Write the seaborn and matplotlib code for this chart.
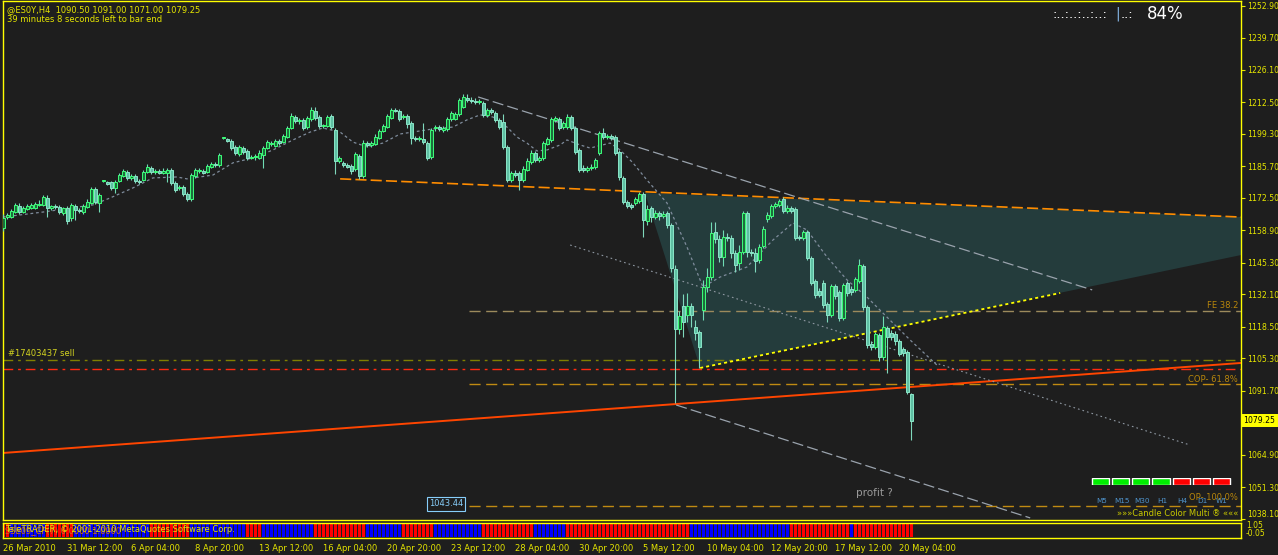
import numpy as np
import pandas as pd
import seaborn as sns
import matplotlib.pyplot as plt

W, H = 1278, 555
BG = "#1e1e1e"
FG = "#e6e600"

# BOUGIES H4 @ES0Y
opens = [
    1159.9, 1164.5, 1164.5, 1166.6, 1169.1, 1166.6, 1167.9, 1168.3, 1168.3, 1169.6,
    1169.6, 1172.5, 1168.3, 1169.1, 1168.7, 1166.2, 1168.3, 1164.1, 1169.1, 1167.5,
    1166.6, 1168.7, 1170.4, 1176.3, 1170.4, 1179.6, 1179.2, 1179.2, 1176.7, 1179.6,
    1181.7, 1183.4, 1180.9, 1181.7, 1179.6, 1180.0, 1183.4, 1185.1, 1183.4, 1183.8,
    1183.0, 1183.0, 1184.2, 1178.8, 1176.7, 1177.1, 1174.2, 1172.1, 1181.7, 1183.8,
    1183.8, 1183.4, 1185.5, 1186.7, 1186.3, 1197.6, 1197.2, 1196.4, 1193.9, 1190.9,
    1193.4, 1192.2, 1189.3, 1189.7, 1189.3, 1190.5, 1193.4, 1195.1, 1194.3, 1196.4,
    1196.0, 1198.0, 1201.8, 1206.4, 1204.7, 1205.2, 1202.2, 1205.6, 1208.9, 1206.4,
    1202.6, 1202.6, 1206.8, 1201.0, 1188.0, 1187.2, 1186.3, 1185.9, 1184.6, 1190.1,
    1181.7, 1195.5, 1194.7, 1195.1, 1197.6, 1200.6, 1202.2, 1206.0, 1209.3, 1208.9,
    1206.4, 1206.8, 1203.9, 1197.6, 1197.2, 1197.2, 1195.5, 1189.7, 1201.8, 1202.2,
    1201.0, 1201.4, 1205.6, 1205.6, 1207.7, 1210.6, 1214.4, 1213.5, 1213.1, 1212.7,
    1212.3, 1207.3, 1209.3, 1208.1, 1205.2, 1204.3, 1193.9, 1180.0, 1183.0, 1183.0,
    1180.0, 1184.2, 1187.6, 1191.3, 1188.4, 1189.3, 1195.1, 1196.8, 1205.2, 1205.6,
    1202.2, 1202.2, 1206.4, 1201.8, 1192.6, 1185.1, 1184.2, 1185.1, 1185.5, 1191.3,
    1199.7, 1198.0, 1198.5, 1198.0, 1191.8, 1180.9, 1170.8, 1169.6, 1170.4, 1171.2,
    1174.2, 1162.9, 1168.3, 1164.5, 1166.2, 1165.0, 1166.2, 1161.2, 1142.8, 1117.6,
    1127.3, 1123.5, 1127.3, 1118.5, 1116.4, 1125.6, 1135.2, 1139.4, 1158.3, 1155.3,
    1147.8, 1156.2, 1155.7, 1149.5, 1145.3, 1149.9, 1166.2, 1149.9, 1149.5, 1146.5,
    1152.4, 1163.7, 1165.0, 1169.1, 1169.6, 1172.1, 1167.0, 1168.3, 1167.9, 1156.2,
    1155.7, 1158.3, 1147.4, 1137.7, 1133.5, 1136.9, 1128.1, 1123.5, 1135.6, 1133.1,
    1122.2, 1136.9, 1134.4, 1134.0, 1137.7, 1144.0, 1126.8, 1111.3, 1110.1, 1115.1,
    1105.9, 1118.0, 1116.0, 1115.5, 1112.6, 1109.3, 1108.0, 1090.5]
highs = [
    1165.8, 1166.2, 1167.9, 1170.4, 1170.4, 1169.1, 1170.0, 1170.4, 1170.8, 1171.7,
    1173.8, 1173.8, 1169.6, 1170.0, 1169.6, 1168.7, 1169.1, 1170.4, 1170.0, 1168.3,
    1170.0, 1172.1, 1177.1, 1177.1, 1174.6, 1180.0, 1179.6, 1179.6, 1180.0, 1183.0,
    1184.6, 1184.2, 1182.6, 1182.6, 1180.5, 1184.2, 1186.7, 1185.9, 1184.6, 1184.6,
    1185.1, 1185.1, 1185.1, 1179.6, 1177.9, 1177.9, 1175.0, 1183.0, 1185.1, 1185.1,
    1184.6, 1186.7, 1187.6, 1187.6, 1191.3, 1198.0, 1197.6, 1197.2, 1194.7, 1194.7,
    1194.3, 1193.0, 1190.5, 1190.9, 1192.6, 1194.3, 1196.8, 1196.4, 1197.2, 1197.2,
    1199.3, 1202.6, 1208.1, 1207.3, 1206.0, 1206.0, 1206.8, 1210.6, 1210.6, 1207.3,
    1203.5, 1207.3, 1207.7, 1201.8, 1190.1, 1188.0, 1187.2, 1186.7, 1191.8, 1190.9,
    1196.8, 1196.4, 1196.4, 1199.3, 1201.4, 1203.5, 1207.7, 1210.2, 1210.2, 1209.8,
    1207.7, 1207.7, 1204.7, 1198.5, 1198.5, 1203.9, 1196.4, 1201.8, 1203.1, 1203.1,
    1202.6, 1206.4, 1208.9, 1208.5, 1214.4, 1216.0, 1216.0, 1214.8, 1214.4, 1214.0,
    1213.1, 1210.2, 1210.2, 1208.9, 1206.0, 1207.7, 1194.7, 1183.8, 1184.2, 1183.8,
    1185.9, 1189.3, 1192.6, 1192.2, 1190.1, 1196.4, 1198.0, 1206.4, 1206.8, 1206.4,
    1204.7, 1207.7, 1207.3, 1202.6, 1193.4, 1186.3, 1185.9, 1186.7, 1189.3, 1200.6,
    1201.8, 1199.3, 1199.3, 1198.9, 1192.6, 1181.7, 1171.7, 1170.4, 1172.9, 1175.0,
    1175.0, 1169.6, 1169.1, 1167.5, 1167.0, 1167.0, 1167.0, 1162.0, 1144.4, 1125.2,
    1132.3, 1132.7, 1128.5, 1121.4, 1117.2, 1138.2, 1143.2, 1162.4, 1162.4, 1157.0,
    1159.1, 1157.8, 1157.0, 1150.7, 1152.8, 1167.0, 1167.0, 1151.1, 1151.5, 1153.2,
    1160.8, 1166.6, 1170.0, 1170.8, 1172.1, 1172.9, 1169.6, 1169.1, 1168.7, 1157.0,
    1159.1, 1159.1, 1148.2, 1138.6, 1134.8, 1138.2, 1128.9, 1136.4, 1136.4, 1134.0,
    1136.9, 1137.7, 1135.6, 1139.4, 1146.9, 1144.8, 1127.7, 1112.6, 1116.4, 1115.9,
    1123.1, 1118.9, 1117.2, 1116.8, 1113.4, 1110.1, 1108.8, 1091.0]
lows = [
    1158.7, 1163.7, 1164.1, 1166.2, 1165.8, 1166.2, 1167.5, 1167.9, 1167.9, 1169.1,
    1169.1, 1164.5, 1167.5, 1167.9, 1165.8, 1165.4, 1161.6, 1162.9, 1163.3, 1166.2,
    1165.8, 1168.3, 1170.0, 1170.0, 1166.6, 1179.2, 1177.9, 1175.8, 1174.6, 1179.2,
    1181.3, 1180.0, 1180.0, 1178.8, 1178.4, 1179.6, 1183.0, 1182.6, 1182.6, 1182.6,
    1182.6, 1179.2, 1177.9, 1175.0, 1175.8, 1173.3, 1171.2, 1171.2, 1180.9, 1183.0,
    1182.6, 1183.0, 1185.1, 1185.5, 1185.5, 1197.2, 1196.0, 1192.6, 1190.5, 1190.1,
    1190.9, 1188.4, 1188.8, 1188.4, 1188.8, 1185.1, 1193.0, 1194.3, 1193.9, 1194.7,
    1195.5, 1197.6, 1201.4, 1203.9, 1203.5, 1201.0, 1201.4, 1204.7, 1205.2, 1201.8,
    1201.8, 1202.2, 1201.4, 1182.6, 1187.2, 1185.5, 1185.1, 1182.6, 1183.8, 1180.5,
    1180.9, 1193.9, 1193.9, 1194.7, 1197.2, 1200.1, 1201.8, 1205.6, 1208.5, 1204.7,
    1205.6, 1201.8, 1195.1, 1196.4, 1196.4, 1195.1, 1188.4, 1188.8, 1200.6, 1200.6,
    1200.1, 1200.6, 1204.7, 1205.2, 1206.8, 1210.2, 1212.7, 1212.3, 1211.9, 1211.9,
    1206.4, 1206.4, 1207.7, 1204.3, 1201.4, 1193.0, 1179.2, 1179.2, 1181.3, 1175.8,
    1179.2, 1183.8, 1186.7, 1187.6, 1187.6, 1188.4, 1194.7, 1196.0, 1204.3, 1201.0,
    1201.4, 1201.4, 1201.0, 1190.9, 1183.4, 1183.4, 1183.4, 1184.2, 1184.6, 1190.5,
    1197.2, 1197.2, 1196.8, 1190.5, 1180.0, 1170.0, 1168.3, 1167.9, 1169.6, 1170.4,
    1156.2, 1161.2, 1162.4, 1163.7, 1163.3, 1164.1, 1159.9, 1141.5, 1086.6, 1115.5,
    1114.3, 1120.6, 1118.5, 1113.0, 1101.3, 1121.4, 1133.1, 1138.2, 1153.6, 1145.7,
    1144.0, 1154.5, 1147.4, 1141.5, 1142.3, 1149.0, 1147.8, 1148.2, 1141.5, 1145.3,
    1151.5, 1162.4, 1164.1, 1168.3, 1168.7, 1166.2, 1166.2, 1166.2, 1154.9, 1154.9,
    1154.9, 1146.5, 1136.1, 1130.6, 1131.0, 1126.4, 1120.6, 1122.6, 1130.2, 1121.0,
    1121.4, 1131.4, 1131.9, 1133.1, 1136.9, 1125.6, 1109.7, 1108.8, 1109.3, 1104.2,
    1104.6, 1099.2, 1113.0, 1110.9, 1106.3, 1106.3, 1090.4, 1071.0]
closes = [
    1164.1, 1165.4, 1167.0, 1169.6, 1166.6, 1168.3, 1169.1, 1169.6, 1170.0, 1170.0,
    1172.9, 1168.3, 1169.1, 1168.7, 1166.6, 1168.3, 1162.9, 1169.6, 1167.5, 1167.0,
    1169.1, 1170.8, 1176.3, 1170.8, 1173.8, 1179.6, 1178.4, 1176.7, 1179.2, 1182.1,
    1183.8, 1180.9, 1181.7, 1179.6, 1179.2, 1183.4, 1185.5, 1183.4, 1183.8, 1183.0,
    1183.8, 1184.2, 1178.8, 1175.8, 1177.1, 1174.2, 1172.1, 1182.1, 1184.2, 1184.2,
    1183.0, 1185.9, 1186.7, 1186.3, 1190.5, 1197.6, 1196.4, 1193.4, 1191.3, 1193.9,
    1191.8, 1189.3, 1189.7, 1190.1, 1191.3, 1193.4, 1196.0, 1195.5, 1196.4, 1195.5,
    1198.5, 1201.8, 1206.8, 1204.7, 1205.2, 1201.8, 1206.0, 1209.3, 1206.0, 1202.6,
    1203.1, 1206.4, 1202.2, 1188.0, 1189.3, 1186.3, 1185.5, 1183.8, 1190.9, 1181.7,
    1195.5, 1194.7, 1195.5, 1198.0, 1200.6, 1202.6, 1206.8, 1209.3, 1208.9, 1205.6,
    1206.8, 1203.5, 1197.6, 1197.2, 1197.6, 1196.0, 1189.3, 1201.0, 1202.2, 1201.4,
    1201.8, 1205.6, 1208.1, 1207.7, 1213.5, 1214.8, 1213.5, 1213.1, 1212.7, 1213.1,
    1207.3, 1209.3, 1208.5, 1205.2, 1202.2, 1193.9, 1180.0, 1183.0, 1182.1, 1180.0,
    1184.6, 1188.0, 1191.3, 1188.4, 1189.3, 1195.5, 1197.2, 1205.6, 1206.0, 1201.8,
    1203.9, 1206.4, 1201.8, 1191.8, 1184.2, 1184.2, 1185.1, 1185.5, 1188.4, 1199.7,
    1198.0, 1198.5, 1197.6, 1191.3, 1181.3, 1170.8, 1169.1, 1168.7, 1172.1, 1174.2,
    1163.3, 1167.9, 1164.5, 1166.2, 1165.0, 1165.8, 1161.2, 1143.2, 1117.6, 1123.1,
    1120.6, 1127.3, 1123.5, 1116.0, 1110.1, 1135.2, 1139.4, 1157.8, 1155.3, 1147.8,
    1156.2, 1155.7, 1149.5, 1144.4, 1149.9, 1166.2, 1149.9, 1149.5, 1146.1, 1152.0,
    1159.5, 1165.4, 1169.1, 1170.0, 1171.2, 1167.0, 1168.3, 1167.0, 1155.7, 1155.7,
    1158.3, 1147.4, 1136.9, 1131.9, 1131.9, 1127.7, 1123.5, 1135.6, 1131.4, 1122.2,
    1136.0, 1132.7, 1133.1, 1138.6, 1144.4, 1126.8, 1110.9, 1110.1, 1115.5, 1105.9,
    1118.5, 1114.3, 1114.3, 1112.6, 1107.1, 1107.6, 1091.2, 1079.25]

ma_bar = [-0.1, 9.9, 22.4, 26.7, 32.4, 37.4, 43.4, 45.9, 52.4, 57.4, 62.4, 67.4, 72.4,
          76.7, 79.9, 84.2, 87.4, 90.9, 94.9, 99.2, 107.4, 112.4, 115.9, 119.2, 122.4,
          125.9, 128.4, 130.9, 133.4, 135.9, 139.2, 140.9, 144.2, 146.7, 151.7, 154.2,
          157.4, 160.9, 165.9, 170.9, 174.9, 179.2, 185.9, 192.4, 197.4, 200.9, 205.9,
          210.9, 215.9, 220.9, 226.7, 233.4]
ma_price = [1164.5, 1166.6, 1169.6, 1172.5, 1176.7, 1180.9, 1181.3, 1180.5, 1182.1, 1187.2,
            1189.3, 1192.6, 1196.8, 1200.1, 1201.8, 1200.1, 1195.9, 1193.9, 1195.5, 1199.3,
            1201.4, 1202.2, 1205.2, 1207.3, 1206.4, 1202.2, 1198.0, 1195.5, 1192.2, 1192.6,
            1194.7, 1196.8, 1194.7, 1193.4, 1195.5, 1192.6, 1187.2, 1180.0, 1170.4, 1152.0,
            1135.2, 1139.4, 1143.6, 1154.9, 1162.0, 1159.1, 1147.8, 1138.2, 1131.0, 1122.6,
            1113.0, 1102.5]

# lignes de tendance (ancrages barre / prix)
trend_orange_bar = [84.2, 309.4]
trend_orange_price = [1180.5, 1164.5]
trend_red_bar = [-0.1, 309.4]
trend_red_price = [1065.7, 1103.4]
channel_up_bar = [118.7, 272.2]
channel_up_price = [1214.8, 1134.0]
channel_low_bar = [168.2, 256.7]
channel_low_price = [1085.8, 1038.5]
channel_mid_bar = [141.7, 296.7]
channel_mid_price = [1152.8, 1069.0]
yellow_bar = [174.2, 264.2]
yellow_price = [1101.3, 1132.7]
triangle_bar = [160.4, 309.4, 309.4, 174.2]
triangle_price = [1174.6, 1164.5, 1148.6, 1101.3]

# niveaux horizontaux
level_olive = 1104.65
level_red = 1100.9
level_fe = 1125.2
level_cop = 1094.6
level_op = 1043.44
levels_start = 116.5

# axe des prix / axe des temps
price_ticks = [1252.90, 1239.70, 1226.10, 1212.50, 1199.30, 1185.70, 1172.50, 1158.90,
               1145.30, 1132.10, 1118.50, 1105.30, 1091.70, 1064.90, 1051.30, 1038.10]
last_price = 1079.25
date_ticks = [0, 16, 32, 48, 64, 80, 96, 112, 128, 144, 160, 176, 192, 208, 224]
date_labels = ["26 Mar 2010", "31 Mar 12:00", "6 Apr 04:00", "8 Apr 20:00", "13 Apr 12:00",
               "16 Apr 04:00", "20 Apr 20:00", "23 Apr 12:00", "28 Apr 04:00", "30 Apr 20:00",
               "5 May 12:00", "10 May 04:00", "12 May 20:00", "17 May 12:00", "20 May 04:00"]

# sous-fenetre : tendance rouge / bleue (longueurs des series)
trend_runs = [("r", 2), ("b", 9), ("r", 7), ("b", 19), ("r", 10), ("b", 14), ("r", 4),
              ("b", 13), ("r", 13), ("b", 9), ("r", 8), ("b", 12), ("r", 13), ("b", 8),
              ("r", 31), ("b", 25), ("r", 15), ("b", 1), ("r", 15)]

# Candle Color Multi
tf_labels = ["M5", "M15", "M30", "H1", "H4", "D1", "W1"]
tf_up = [1, 1, 1, 1, 0, 0, 0]

sns.set_theme(style="dark", rc={
    "axes.facecolor": BG, "figure.facecolor": BG, "axes.edgecolor": "#ffff00",
    "axes.linewidth": 1.0, "lines.scale_dashes": False})
plt.rcParams["font.family"] = ["DejaVu Sans"]

df = pd.DataFrame({"o": opens, "h": highs, "l": lows, "c": closes})
df["i"] = np.arange(len(df))
up = df["c"] >= df["o"]

fig = plt.figure(figsize=(W / 100, H / 100), dpi=100)
ax = fig.add_axes([3 / W, 1 - 520 / H, 1238 / W, 519 / H])
ax2 = fig.add_axes([3 / W, 1 - 538 / H, 1238 / W, 15 / H], sharex=ax)
ax.set_xlim(-0.075, 309.4)
ax.set_ylim(1037.63, 1254.99)

# zone triangle
ax.fill(triangle_bar, triangle_price, color="#243c3c", lw=0, zorder=0.5)

# lignes horizontales
ax.axhline(level_olive, color="#808000", lw=1, dashes=(7, 3.5, 2, 3.5), zorder=1)
ax.axhline(level_red, color="#ff2a10", lw=1, dashes=(7, 3.5, 2, 3.5), zorder=1)
ax.hlines([level_fe], levels_start, 309.4, color="#9c8a5c", lw=1, linestyles=[(0, (8, 4))], zorder=1)
ax.hlines([level_cop, level_op], levels_start, 309.4, color="#c08a12", lw=1,
          linestyles=[(0, (8, 4))], zorder=1)

# tendances
ax.plot(trend_red_bar, trend_red_price, color="#ff4500", lw=1.4, zorder=2)
ax.plot(trend_orange_bar, trend_orange_price, color="#ff8c00", lw=1.2, dashes=(8, 3), zorder=2)
ax.plot(channel_up_bar, channel_up_price, color="#9aa3ad", lw=0.9, dashes=(8, 3), zorder=2)
ax.plot(channel_low_bar, channel_low_price, color="#9aa3ad", lw=0.9, dashes=(8, 3), zorder=2)
ax.plot(channel_mid_bar, channel_mid_price, color="#8f98a2", lw=0.8, dashes=(1.2, 2.2), zorder=2)
ax.plot(yellow_bar, yellow_price, color="#ffff00", lw=1.3, dashes=(2.2, 2.2), zorder=2)

sns.lineplot(x=ma_bar, y=ma_price, ax=ax, color="#7f8c9c", lw=0.9, sort=False,
             estimator=None, dashes=False, linestyle=(0, (2, 2)), zorder=2)

# bougies
wick_col = np.where(up, "#6fdcb4", "#7fd8bc")
ax.vlines(df["i"], df["l"], df["h"], colors=wick_col, lw=0.8, zorder=3)
body_lo = np.minimum(df["o"], df["c"])
body_h = np.maximum((df["c"] - df["o"]).abs(), 0.35)
ax.bar(df["i"][up], body_h[up], bottom=body_lo[up], width=0.72,
       color="#1c6e3c", edgecolor="#3dff7a", lw=0.7, zorder=4)
ax.bar(df["i"][~up], body_h[~up], bottom=body_lo[~up], width=0.72,
       color="#5fbfa3", edgecolor="#8ae6c8", lw=0.7, zorder=4)

# axe des prix a droite
ax.yaxis.tick_right()
ax.set_yticks(price_ticks)
ax.set_yticklabels([f"{v:.2f}" for v in price_ticks])
ax.tick_params(axis="y", colors=FG, length=3, width=0.8, labelsize=5.6, pad=1.5)
ax.tick_params(axis="x", bottom=False, labelbottom=False)
ax.get_yticklabels()[-1].set_va("bottom")
ax.text(1.002, last_price, "1079.25", transform=ax.get_yaxis_transform(), ha="left",
        va="center", fontsize=5.6, color="black", clip_on=False,
        bbox=dict(boxstyle="square,pad=0.3", fc="#ffff00", ec="none"))
for s in ax.spines.values():
    s.set_color("#ffff00")

# sous-fenetre
trend_cols = []
for state, n in trend_runs:
    trend_cols += ["#ff0000" if state == "r" else "#0000ff"] * n
ax2.bar(df["i"], [1] * len(df), bottom=0, width=0.62, color=trend_cols, lw=0)
ax2.set_ylim(-0.05, 1.05)
ax2.set_yticks([])
ax2.set_xticks(date_ticks)
ax2.set_xticklabels(date_labels)
ax2.tick_params(axis="x", colors=FG, length=3, width=0.8, labelsize=6, pad=1.5)
for t in ax2.get_xticklabels():
    t.set_ha("left")
for s in ax2.spines.values():
    s.set_color("#ffff00")


def px(x, y):
    return x / W, 1 - y / H


fig.text(*px(7, 10), "@ES0Y,H4  1090.50 1091.00 1071.00 1079.25", color=FG, fontsize=6, va="center")
fig.text(*px(7, 20), "39 minutes 8 seconds left to bar end", color=FG, fontsize=6, va="center")
fig.text(*px(1053, 14), ":..:..:..:..:", color="white", fontsize=9.5, va="center")
fig.text(*px(1115, 14), "|", color="#87b8e8", fontsize=10, va="center")
fig.text(*px(1121, 14), "..:", color="white", fontsize=9.5, va="center")
fig.text(*px(1147, 14), "84%", color="white", fontsize=12, va="center")

fig.text(*px(8, 354), "#17403437 sell", color="#d4d420", fontsize=6, va="center")
fig.text(*px(856, 493), "profit ?", color="#9a9a9a", fontsize=7.5, va="center")
fig.text(*px(429, 504), "1043.44", color="#87cefa", fontsize=6, va="center",
         bbox=dict(boxstyle="square,pad=0.25", fc=BG, ec="#87cefa", lw=0.8))
fig.text(*px(1238, 305), "FE 38.2", color="#b8860b", fontsize=6, va="center", ha="right")
fig.text(*px(1238, 379), "COP- 61.8%", color="#b8860b", fontsize=6, va="center", ha="right")
fig.text(*px(1238, 498), "OP- 100.0%", color="#b8860b", fontsize=6, va="center", ha="right")

# Candle Color Multi
cax = fig.add_axes([1090 / W, 1 - 485 / H, 142 / W, 7 / H])
cax.bar(range(len(tf_up)), [1] * len(tf_up), width=0.85,
        color=["#00ee00" if u else "#ff0000" for u in tf_up])
cax.set_xlim(-0.5, len(tf_up) - 0.5)
cax.set_ylim(0, 1)
cax.axis("off")
for k, lab in enumerate(tf_labels):
    fig.text(*px(1102 + k * 20, 501), lab, color="#4f94cd", fontsize=5.2, va="center", ha="center")
fig.text(*px(1117, 513), "»»»Candle Color Multi ® «««", color="#c8c800", fontsize=6, va="center")

# textes de la sous-fenetre
fig.text(*px(5, 531), "SSE09_CF(7) 0.0000 1.0000", color="#d2691e", fontsize=6, va="center")
fig.text(*px(5, 529), "TeleTRADER, © 2001-2010 MetaQuotes Software Corp.", color=FG, fontsize=6, va="center")
fig.text(*px(1246, 526), "1.05", color=FG, fontsize=5.5, va="center")
fig.text(*px(1246, 533), "-0.05", color=FG, fontsize=5.5, va="center")

fig.savefig("out.png", dpi=100, facecolor=BG)
